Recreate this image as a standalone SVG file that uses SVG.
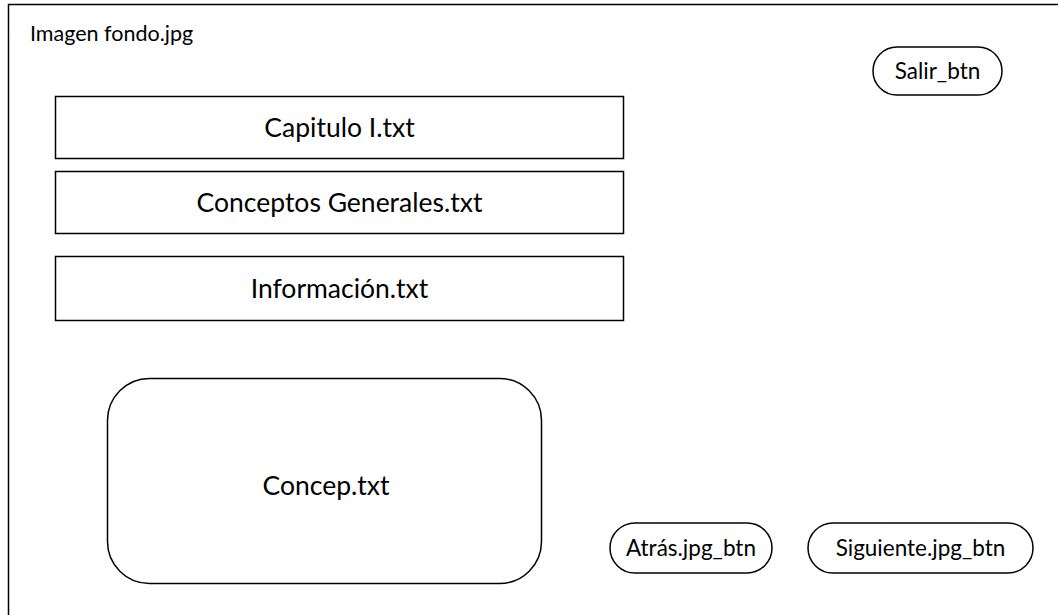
<svg xmlns="http://www.w3.org/2000/svg" width="1058" height="615" viewBox="0 0 1058 615">
<style>
.shape{fill:#ffffff;stroke:#000000;stroke-width:1.5}
.t{font-family:Lato,"Open Sans","Liberation Sans",sans-serif;fill:#000000;text-anchor:middle}
.big{font-size:26.5px}
.btn{font-size:22.5px}
</style>
<rect x="0" y="0" width="1058" height="615" fill="#ffffff"/>
<g id="fondo">
<rect class="shape" x="8.5" y="4.5" width="1060" height="620"/>
<text class="t" x="30" y="41" style="font-size:21.5px;text-anchor:start">Imagen fondo.jpg</text>
</g>
<g id="salir">
<rect class="shape" x="873" y="47" width="129" height="48" rx="24" ry="24"/>
<text class="t btn" x="937.5" y="79">Salir_btn</text>
</g>
<g id="capitulo">
<rect class="shape" x="55.5" y="96.5" width="568" height="62"/>
<text class="t big" x="339.5" y="137">Capitulo I.txt</text>
</g>
<g id="conceptos">
<rect class="shape" x="55.5" y="171.5" width="568" height="62"/>
<text class="t big" x="339.5" y="212">Conceptos Generales.txt</text>
</g>
<g id="informacion">
<rect class="shape" x="55.5" y="256.5" width="568" height="64"/>
<text class="t big" x="339.5" y="298">Información.txt</text>
</g>
<g id="concep">
<rect class="shape" x="107.5" y="378.5" width="434" height="205" rx="42" ry="42"/>
<text class="t big" x="326" y="495">Concep.txt</text>
</g>
<g id="atras">
<rect class="shape" x="610" y="523" width="162" height="50" rx="25" ry="25"/>
<text class="t btn" x="691" y="556">Atrás.jpg_btn</text>
</g>
<g id="siguiente">
<rect class="shape" x="808" y="523" width="225" height="50" rx="25" ry="25"/>
<text class="t btn" x="920.5" y="556">Siguiente.jpg_btn</text>
</g>
<g id="connectors"></g>
</svg>
